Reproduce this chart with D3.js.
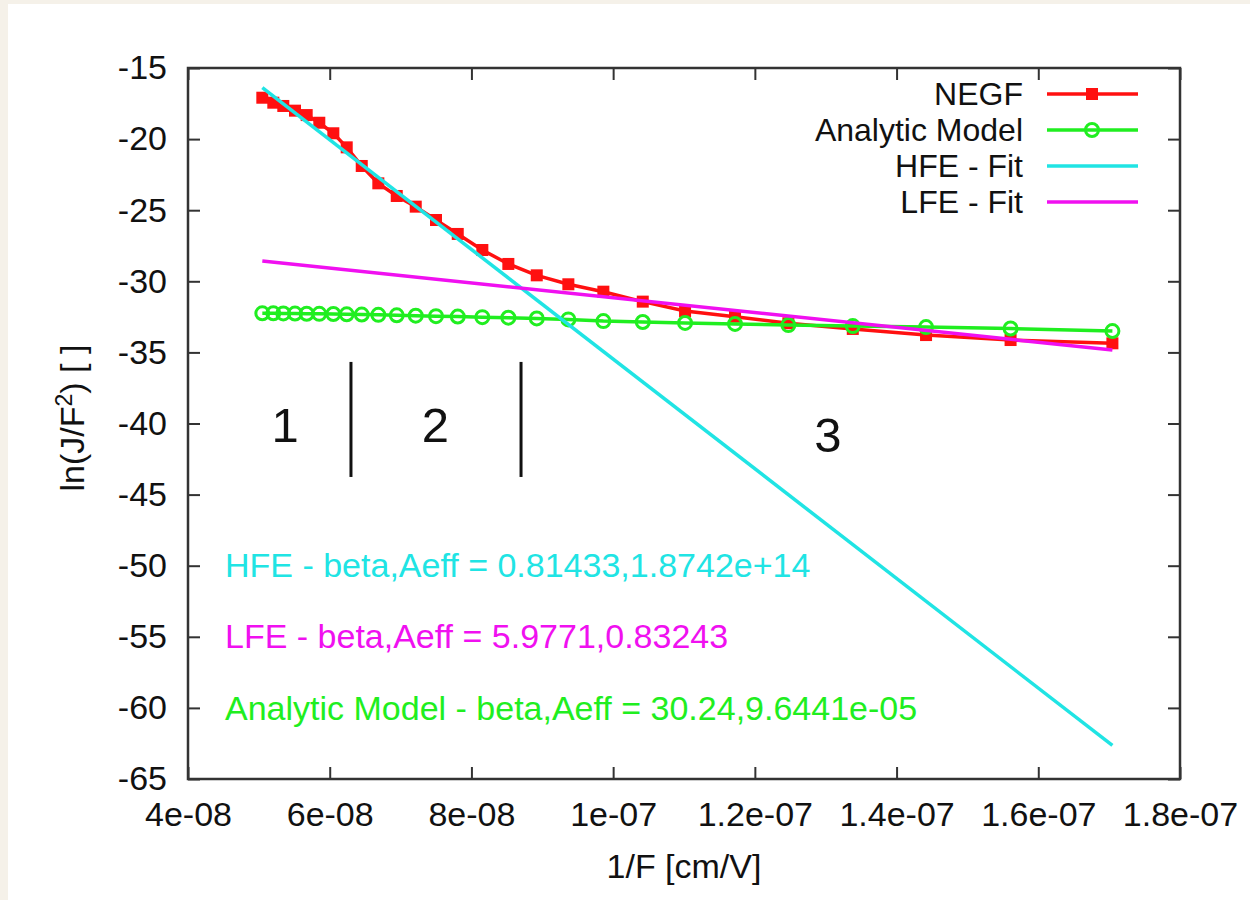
<!DOCTYPE html>
<html>
<head>
<meta charset="utf-8">
<script src="https://cdn.jsdelivr.net/npm/d3@7"></script>
<style>
  html, body { margin: 0; padding: 0; background: #f5f1e9; }
  svg { display: block; }
  text { font-family: "Liberation Sans", Arial, Helvetica, sans-serif; }
</style>
</head>
<body>
<div id="chart"></div>
<script>
// 1/F values [cm/V], shared by both series
const invField = [
  5.049e-8, 5.204e-8, 5.345e-8, 5.510e-8, 5.675e-8, 5.853e-8, 6.051e-8, 6.240e-8, 6.452e-8,
  6.686e-8, 6.946e-8, 7.214e-8, 7.500e-8, 7.807e-8, 8.154e-8, 8.521e-8, 8.922e-8, 9.368e-8,
  9.862e-8, 1.0418e-7, 1.1015e-7, 1.1720e-7, 1.2473e-7, 1.3382e-7, 1.4416e-7, 1.5609e-7, 1.7046e-7
];
// ln(J/F^2) from NEGF
const negf = [
  -17.09, -17.44, -17.67, -18.00, -18.31, -18.85, -19.59, -20.58, -21.89,
  -23.11, -24.00, -24.75, -25.69, -26.67, -27.80, -28.78, -29.58, -30.21,
  -30.73, -31.43, -32.09, -32.49, -32.95, -33.35, -33.78, -34.13, -34.36
];
// ln(J/F^2) from the analytic model
const analytic = [
  -32.25, -32.25, -32.26, -32.27, -32.28, -32.29, -32.30, -32.32, -32.34,
  -32.36, -32.39, -32.42, -32.45, -32.48, -32.52, -32.56, -32.61, -32.68,
  -32.80, -32.86, -32.93, -33.00, -33.08, -33.15, -33.22, -33.32, -33.50
];
// fit lines (end points)
const fitX = [5.049e-8, 1.7046e-7];
const hfeFit = [-16.38, -62.64];
const lfeFit = [-28.57, -34.83];

const xTicks = [4e-8, 6e-8, 8e-8, 1e-7, 1.2e-7, 1.4e-7, 1.6e-7, 1.8e-7];
const xTickLabels = ['4e-08', '6e-08', '8e-08', '1e-07', '1.2e-07', '1.4e-07', '1.6e-07', '1.8e-07'];
const yTicks = [-65, -60, -55, -50, -45, -40, -35, -30, -25, -20, -15];
const yTickLabels = ['-65', '-60', '-55', '-50', '-45', '-40', '-35', '-30', '-25', '-20', '-15'];

const legendLabels = ['NEGF', 'Analytic Model', 'HFE - Fit', 'LFE - Fit'];
const fitLabels = [
  'HFE - beta,Aeff = 0.81433,1.8742e+14',
  'LFE - beta,Aeff = 5.9771,0.83243',
  'Analytic Model - beta,Aeff = 30.24,9.6441e-05'
];
// region markers: separator positions and region numbers
const regionBounds = [6.30e-8, 8.70e-8];
const regionLabels = [
  {x: 5.37e-8, y: -41.3, t: '1'},
  {x: 7.49e-8, y: -41.3, t: '2'},
  {x: 1.303e-7, y: -42.0, t: '3'}
];

const width = 1250;
const height = 900;
const fontSize = '34px';
const colors = {red: '#ff1010', green: '#20ee20', cyan: '#20e4e4', magenta: '#f010f0'};

const svg = d3.select('#chart').append('svg')
  .attr('width', width)
  .attr('height', height);

svg.append('rect').attr('width', width).attr('height', height).attr('fill', '#f5f1e9');
svg.append('rect').attr('x', 8).attr('y', 4).attr('width', width).attr('height', height).attr('fill', '#ffffff');

const plot = {left: 188, top: 68, right: 1180, bottom: 779};

const xScale = d3.scaleLinear().domain([4e-8, 1.8e-7]).range([plot.left, plot.right]);
const yScale = d3.scaleLinear().domain([-65, -15]).range([plot.bottom, plot.top]);

// axes with inward ticks on all four sides
const axisColor = '#333';
function styleAxis(g) {
  g.select('.domain').remove();
  g.selectAll('.tick line').attr('stroke', axisColor).attr('stroke-width', 2);
  g.selectAll('.tick text').attr('fill', '#111').style('font-size', fontSize)
    .attr('font-family', '"Liberation Sans", Arial, sans-serif');
}

svg.append('g')
  .attr('transform', `translate(0,${plot.bottom})`)
  .call(d3.axisBottom(xScale).tickValues(xTicks).tickFormat((d, i) => xTickLabels[i]).tickSize(-12).tickPadding(23))
  .call(styleAxis);
svg.append('g')
  .attr('transform', `translate(0,${plot.top})`)
  .call(d3.axisTop(xScale).tickValues(xTicks).tickFormat('').tickSize(-12))
  .call(styleAxis);
svg.append('g')
  .attr('transform', `translate(${plot.left},0)`)
  .call(d3.axisLeft(yScale).tickValues(yTicks).tickFormat((d, i) => yTickLabels[i]).tickSize(-12).tickPadding(21))
  .call(styleAxis);
svg.append('g')
  .attr('transform', `translate(${plot.right},0)`)
  .call(d3.axisRight(yScale).tickValues(yTicks).tickFormat('').tickSize(-12))
  .call(styleAxis);

svg.append('rect')
  .attr('x', plot.left).attr('y', plot.top)
  .attr('width', plot.right - plot.left).attr('height', plot.bottom - plot.top)
  .attr('fill', 'none').attr('stroke', axisColor).attr('stroke-width', 2.5);

// axis titles
svg.append('text')
  .attr('x', (plot.left + plot.right) / 2).attr('y', 878)
  .attr('text-anchor', 'middle').style('font-size', fontSize).attr('fill', '#111')
  .text('1/F [cm/V]');

const yTitle = svg.append('text')
  .attr('transform', 'translate(84,418) rotate(-90)')
  .attr('text-anchor', 'middle').style('font-size', fontSize).attr('fill', '#111');
yTitle.append('tspan').text('ln(J/F');
yTitle.append('tspan').attr('dy', -12).style('font-size', '23px').text('2');
yTitle.append('tspan').attr('dy', 12).text(') [ ]');

// region separators and numbers
svg.selectAll('.sep')
  .data(regionBounds)
  .enter().append('line')
  .attr('x1', d => xScale(d)).attr('x2', d => xScale(d))
  .attr('y1', yScale(-35.67)).attr('y2', yScale(-43.76))
  .attr('stroke', '#111').attr('stroke-width', 3);

svg.selectAll('.region')
  .data(regionLabels)
  .enter().append('text')
  .attr('x', d => xScale(d.x)).attr('y', d => yScale(d.y))
  .attr('text-anchor', 'middle').style('font-size', '49px').attr('fill', '#111')
  .text(d => d.t);

// fit annotations
const fitColors = [colors.cyan, colors.magenta, colors.green];
const fitBaselines = [577, 648, 720];
svg.selectAll('.fitlabel')
  .data(fitLabels)
  .enter().append('text')
  .attr('x', 225).attr('y', (d, i) => fitBaselines[i])
  .style('font-size', fontSize).attr('fill', (d, i) => fitColors[i])
  .text(d => d);

// series
const line = d3.line().x(d => xScale(d[0])).y(d => yScale(d[1]));
const negfPts = invField.map((x, i) => [x, negf[i]]);
const anaPts = invField.map((x, i) => [x, analytic[i]]);

svg.append('path').datum(negfPts).attr('d', line)
  .attr('fill', 'none').attr('stroke', colors.red).attr('stroke-width', 3.5);
svg.selectAll('.sq').data(negfPts).enter().append('rect')
  .attr('x', d => xScale(d[0]) - 6).attr('y', d => yScale(d[1]) - 6)
  .attr('width', 12).attr('height', 12).attr('fill', colors.red);

svg.append('path').datum(anaPts).attr('d', line)
  .attr('fill', 'none').attr('stroke', colors.green).attr('stroke-width', 3.5);
svg.selectAll('.circ').data(anaPts).enter().append('circle')
  .attr('cx', d => xScale(d[0])).attr('cy', d => yScale(d[1])).attr('r', 6.5)
  .attr('fill', 'none').attr('stroke', colors.green).attr('stroke-width', 3);

svg.append('path').datum(fitX.map((x, i) => [x, hfeFit[i]])).attr('d', line)
  .attr('fill', 'none').attr('stroke', colors.cyan).attr('stroke-width', 3.5);
svg.append('path').datum(fitX.map((x, i) => [x, lfeFit[i]])).attr('d', line)
  .attr('fill', 'none').attr('stroke', colors.magenta).attr('stroke-width', 3.5);

// legend
const legendColors = [colors.red, colors.green, colors.cyan, colors.magenta];
const legendRows = [94, 130, 166, 202];
const legend = svg.append('g');
legendLabels.forEach((label, i) => {
  const y = legendRows[i];
  legend.append('text')
    .attr('x', 1023).attr('y', y).attr('dy', '0.35em')
    .attr('text-anchor', 'end').style('font-size', '32px').attr('fill', '#111')
    .text(label);
  legend.append('line')
    .attr('x1', 1047).attr('x2', 1138).attr('y1', y).attr('y2', y)
    .attr('stroke', legendColors[i]).attr('stroke-width', 3.5);
  if (i === 0) {
    legend.append('rect').attr('x', 1092 - 6).attr('y', y - 6)
      .attr('width', 12).attr('height', 12).attr('fill', colors.red);
  } else if (i === 1) {
    legend.append('circle').attr('cx', 1092).attr('cy', y).attr('r', 6.5)
      .attr('fill', 'none').attr('stroke', colors.green).attr('stroke-width', 3);
  }
});
</script>
</body>
</html>
